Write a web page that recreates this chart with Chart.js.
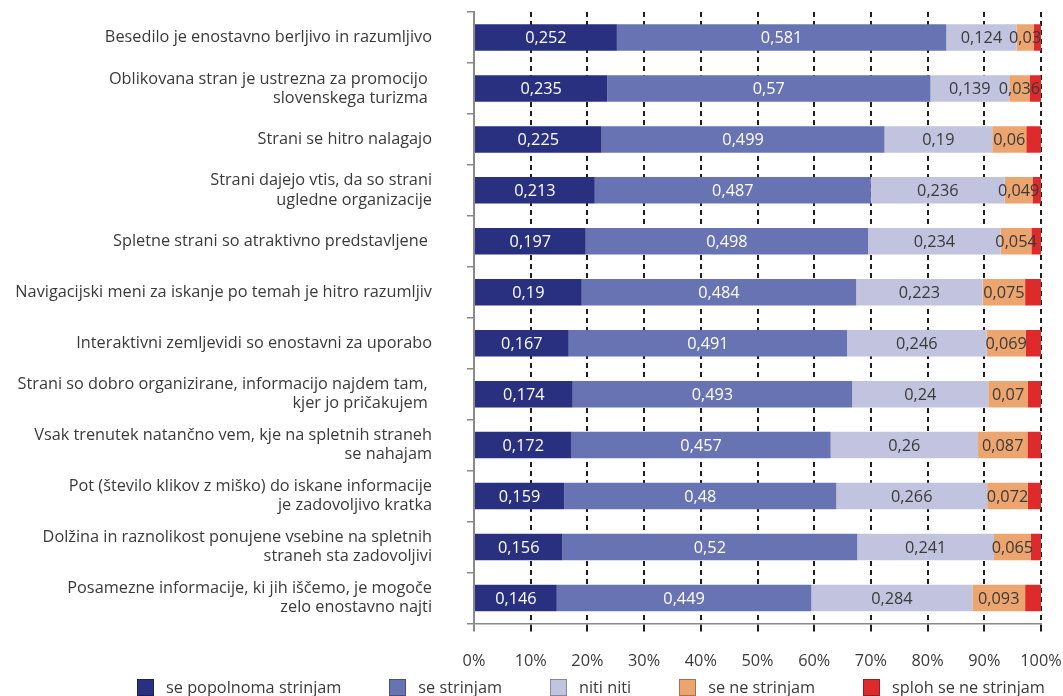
<!DOCTYPE html>
<html>
<head>
<meta charset="utf-8">
<script src="https://cdn.jsdelivr.net/npm/chart.js@4.4.1/dist/chart.umd.min.js"></script>
<style>
  html, body { margin: 0; padding: 0; background: #fff; }
  #wrap { position: relative; width: 1063px; height: 696px; overflow: hidden; }
  #legenda {
    position: absolute; left: 137px; width: 908px; top: 677px; height: 20px;
    display: flex; justify-content: space-between; align-items: center;
    font-family: 'Open Sans', sans-serif; font-size: 16.3px; color: #3a3a3a;
    white-space: nowrap;
  }
  #legenda span.kv {
    display: inline-block; width: 17px; height: 17px; margin-right: 12px;
    box-sizing: border-box; border: 1px solid rgba(0, 0, 0, 0.3); vertical-align: -3px;
  }
</style>
</head>
<body>
<div id="wrap">
  <canvas id="ocenaChart" width="1063" height="696"></canvas>
  <div id="legenda"></div>
</div>
<script>
var trditve = [
    'Besedilo je enostavno berljivo in razumljivo',
    ['Oblikovana stran je ustrezna za promocijo ', 'slovenskega turizma '],
    'Strani se hitro nalagajo',
    ['Strani dajejo vtis, da so strani', 'ugledne organizacije'],
    'Spletne strani so atraktivno predstavljene ',
    'Navigacijski meni za iskanje po temah je hitro razumljiv',
    'Interaktivni zemljevidi so enostavni za uporabo',
    ['Strani so dobro organizirane, informacijo najdem tam, ', 'kjer jo pričakujem '],
    ['Vsak trenutek natančno vem, kje na spletnih straneh', 'se nahajam'],
    ['Pot (število klikov z miško) do iskane informacije', 'je zadovoljivo kratka'],
    ['Dolžina in raznolikost ponujene vsebine na spletnih', 'straneh sta zadovoljivi'],
    ['Posamezne informacije, ki jih iščemo, je mogoče', 'zelo enostavno najti']
];

var popolnomaStrinjam = [0.252, 0.235, 0.225, 0.213, 0.197, 0.19, 0.167, 0.174, 0.172, 0.159, 0.156, 0.146];
var strinjam          = [0.581, 0.57, 0.499, 0.487, 0.498, 0.484, 0.491, 0.493, 0.457, 0.48, 0.52, 0.449];
var nitiNiti          = [0.124, 0.139, 0.19, 0.236, 0.234, 0.223, 0.246, 0.24, 0.26, 0.266, 0.241, 0.284];
var neStrinjam        = [0.03, 0.036, 0.06, 0.049, 0.054, 0.075, 0.069, 0.07, 0.087, 0.072, 0.065, 0.093];
var splohNe           = [0.013, 0.02, 0.026, 0.015, 0.017, 0.028, 0.027, 0.023, 0.024, 0.023, 0.018, 0.028];

var odstotki = ['0%', '10%', '20%', '30%', '40%', '50%', '60%', '70%', '80%', '90%', '100%'];

var pisava = "'Open Sans', sans-serif";
var barvaTeksta = '#3a3a3a';

// vrednosti v segmentih (decimalna vejica), rdeči segment ostane brez
var vrednostiPlugin = {
    id: 'vrednosti',
    afterDatasetsDraw: function(chart) {
        var ctx = chart.ctx;
        ctx.save();
        ctx.font = '16.3px ' + pisava;
        ctx.textAlign = 'center';
        ctx.textBaseline = 'middle';
        chart.data.datasets.forEach(function(ds, i) {
            if (!ds.labelColor) return;
            var meta = chart.getDatasetMeta(i);
            meta.data.forEach(function(bar, j) {
                ctx.fillStyle = ds.labelColor;
                var txt = String(ds.data[j]).replace('.', ',');
                ctx.fillText(txt, (bar.x + bar.base) / 2, bar.y + 1);
            });
        });
        ctx.restore();
    }
};

var ctx = document.getElementById('ocenaChart').getContext('2d');
var ocenaChart = new Chart(ctx, {
    type: 'bar',
    data: {
        labels: trditve,
        datasets: [
            { label: 'se popolnoma strinjam', data: popolnomaStrinjam, backgroundColor: '#293080', labelColor: '#ffffff' },
            { label: 'se strinjam', data: strinjam, backgroundColor: '#6873b4', labelColor: '#ffffff' },
            { label: 'niti niti', data: nitiNiti, backgroundColor: '#c2c3de', labelColor: '#3a3a3a' },
            { label: 'se ne strinjam', data: neStrinjam, backgroundColor: '#eca56f', labelColor: '#3a3a3a' },
            { label: 'sploh se ne strinjam', data: splohNe, backgroundColor: '#df2a2b' }
        ]
    },
    options: {
        indexAxis: 'y',
        responsive: false,
        animation: false,
        categoryPercentage: 1,
        barPercentage: 0.52,
        layout: { padding: { top: 12, right: 22, left: 0, bottom: 5 } },
        scales: {
            x: {
                stacked: true,
                min: 0,
                max: 1,
                ticks: {
                    stepSize: 0.1,
                    padding: 20,
                    color: barvaTeksta,
                    font: { family: pisava, size: 16.3 },
                    callback: function(v) { return odstotki[Math.round(v * 10)]; }
                },
                grid: {
                    color: function(c) { return c.index === 0 ? '#8a8a8a' : '#1e1e1e'; },
                    lineWidth: 2,
                    tickLength: 8
                },
                border: { display: true, color: '#8a8a8a', width: 1.5, dash: [5, 4] },
                afterFit: function(scale) {
                    // zadnja oznaka "100%" sme seči čez desni rob
                    scale.paddingLeft = 0;
                    scale.paddingRight = 0;
                }
            },
            y: {
                stacked: true,
                ticks: {
                    padding: 35,
                    color: barvaTeksta,
                    font: { family: pisava, size: 16.3, lineHeight: 1.17 }
                },
                grid: {
                    offset: true,
                    drawOnChartArea: false,
                    color: '#8a8a8a',
                    lineWidth: 1.5,
                    tickLength: 7
                },
                border: { display: true, color: '#8a8a8a', width: 2 },
                afterFit: function(scale) {
                    scale.width = 474;
                    scale.paddingTop = 0;
                    scale.paddingBottom = 0;
                }
            }
        },
        plugins: {
            tooltip: { enabled: false },
            legend: { display: false }
        }
    },
    plugins: [vrednostiPlugin]
});

// legenda pod grafom iz podatkov serij
var legenda = document.getElementById('legenda');
ocenaChart.data.datasets.forEach(function(ds) {
    var el = document.createElement('div');
    var kv = document.createElement('span');
    kv.className = 'kv';
    kv.style.background = ds.backgroundColor;
    el.appendChild(kv);
    el.appendChild(document.createTextNode(ds.label));
    legenda.appendChild(el);
});
</script>
</body>
</html>
